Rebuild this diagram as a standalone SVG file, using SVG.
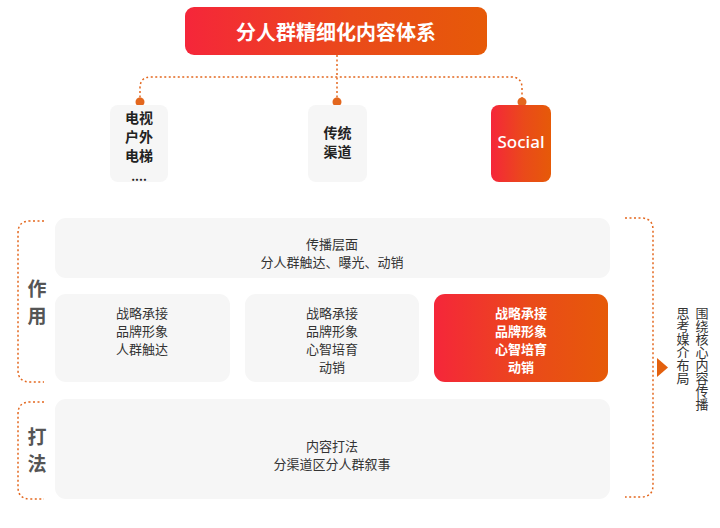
<svg xmlns="http://www.w3.org/2000/svg" width="720" height="528" viewBox="0 0 720 528">
<defs>
<linearGradient id="g" x1="0" y1="0" x2="1" y2="0">
<stop offset="0" stop-color="#F5263A"/>
<stop offset="0.55" stop-color="#EA4A1A"/>
<stop offset="1" stop-color="#E65A08"/>
</linearGradient>
<style>
text{font-family:"Noto Sans CJK SC","Noto Sans",sans-serif;text-anchor:middle;dominant-baseline:central}
.grey{fill:#F6F6F6}
.dot{fill:none;stroke:#E3671E;stroke-width:1.5;stroke-dasharray:2 2.5}
.n{font-size:13px;fill:#333}
.nb{font-size:13px;fill:#fff;font-weight:bold}
.ch{font-size:14px;fill:#222;font-weight:bold}
.side{font-size:19px;fill:#555;font-weight:bold}
.vt{font-size:13px;fill:#333;writing-mode:vertical-rl;text-anchor:start;dominant-baseline:auto}
</style>
</defs>
<rect width="720" height="528" fill="#fff"/>
<g id="connectors">
<path class="dot" d="M337,55 V102"/>
<path class="dot" d="M140,102 V88 Q140,77 151,77 H511 Q522,77 522,88 V102"/>
<circle cx="140" cy="102" r="4.5" fill="#E3671E"/>
<circle cx="337" cy="102" r="4.5" fill="#E3671E"/>
<circle cx="522" cy="102" r="4.5" fill="#E3671E"/>
<path class="dot" d="M44,221 H30 Q18,221 18,233 V370 Q18,382 30,382 H44"/>
<path class="dot" d="M44,402 H30 Q18,402 18,414 V487 Q18,499 30,499 H44"/>
<path class="dot" d="M625,218 H641 Q653,218 653,230 V485 Q653,497 641,497 H625"/>
<polygon points="657,358 668,367.5 657,377" fill="#E3600E"/>
</g>
<g id="title">
<rect x="185" y="7" width="302" height="48" rx="9" fill="url(#g)"/>
<text x="336" y="31" style="font-size:20px;font-weight:bold;fill:#fff">分人群精细化内容体系</text>
</g>
<g id="tv">
<rect class="grey" x="110" y="105" width="58" height="77" rx="8"/>
<text class="ch" x="139" y="117">电视</text>
<text class="ch" x="139" y="136">户外</text>
<text class="ch" x="139" y="155">电梯</text>
<text class="ch" x="139" y="175" style="font-size:12px">....</text>
</g>
<g id="traditional">
<rect class="grey" x="308" y="105" width="59" height="77" rx="8"/>
<text class="ch" x="337.5" y="131.5">传统</text>
<text class="ch" x="337.5" y="151">渠道</text>
</g>
<g id="social">
<rect x="491" y="105" width="60" height="77" rx="8" fill="url(#g)"/>
<text x="521" y="141" style="font-size:17px;font-weight:500;fill:#fff;font-family:'Noto Sans',sans-serif">Social</text>
</g>
<g id="label-zuoyong">
<text class="side" x="37" y="287">作</text>
<text class="side" x="37" y="314">用</text>
</g>
<g id="label-dafa">
<text class="side" x="37" y="435">打</text>
<text class="side" x="37" y="462">法</text>
</g>
<g id="spread">
<rect class="grey" x="55" y="218" width="555" height="60" rx="11"/>
<text class="n" x="332" y="243">传播层面</text>
<text class="n" x="332" y="261">分人群触达、曝光、动销</text>
</g>
<g id="col1">
<rect class="grey" x="55" y="294" width="175" height="88" rx="11"/>
<text class="n" x="142" y="312">战略承接</text>
<text class="n" x="142" y="330">品牌形象</text>
<text class="n" x="142" y="348">人群触达</text>
</g>
<g id="col2">
<rect class="grey" x="245" y="294" width="174" height="88" rx="11"/>
<text class="n" x="332" y="312">战略承接</text>
<text class="n" x="332" y="330">品牌形象</text>
<text class="n" x="332" y="348">心智培育</text>
<text class="n" x="332" y="366">动销</text>
</g>
<g id="col3">
<rect x="434" y="294" width="174" height="88" rx="11" fill="url(#g)"/>
<text class="nb" x="521" y="312">战略承接</text>
<text class="nb" x="521" y="330">品牌形象</text>
<text class="nb" x="521" y="348">心智培育</text>
<text class="nb" x="521" y="366">动销</text>
</g>
<g id="play">
<rect class="grey" x="55" y="399" width="555" height="100" rx="11"/>
<text class="n" x="332" y="445">内容打法</text>
<text class="n" x="332" y="463">分渠道区分人群叙事</text>
</g>
<g id="side-note">
<text class="vt" x="702" y="307">围绕核心内容传播</text>
<text class="vt" x="683" y="307">思考媒介布局</text>
</g>
</svg>
